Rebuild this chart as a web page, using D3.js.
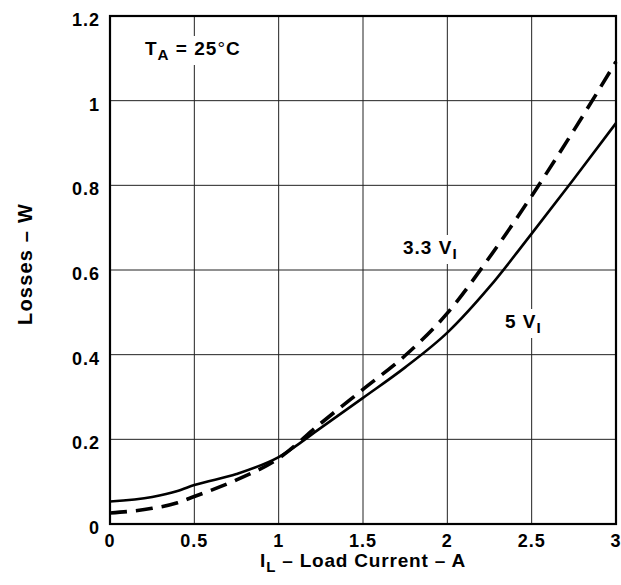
<!DOCTYPE html>
<html>
<head>
<meta charset="utf-8">
<script src="https://cdn.jsdelivr.net/npm/d3@7"></script>
<style>
  body { margin: 0; background: #fff; }
  text { font-family: "Liberation Sans", Arial, sans-serif; font-weight: bold; fill: #000; }
</style>
</head>
<body>
<div id="chart"></div>
<script>
// load current (A) and losses (W)
var currentA  = [0, 0.25, 0.4, 0.5, 0.75, 1.0, 1.25, 1.5, 1.75, 2.0, 2.25, 2.5, 2.75, 3.0];
var losses5V  = [0.053, 0.064, 0.078, 0.092, 0.118, 0.158, 0.227, 0.298, 0.37, 0.452, 0.56, 0.686, 0.815, 0.947];
var losses33V = [0.026, 0.037, 0.050, 0.065, 0.104, 0.155, 0.238, 0.318, 0.398, 0.498, 0.63, 0.775, 0.93, 1.092];

var xTicks = [0, 0.5, 1, 1.5, 2, 2.5, 3];
var yTicks = [0, 0.2, 0.4, 0.6, 0.8, 1, 1.2];

var svg = d3.select("#chart").append("svg").attr("width", 621).attr("height", 585),
    pLeft = 110, pRight = 616, pTop = 16, pBottom = 524;

var x = d3.scaleLinear().domain([0, 3]).range([pLeft, pRight]);
var y = d3.scaleLinear().domain([0, 1.2]).range([pBottom, pTop]);

// grid
svg.append("g")
   .selectAll("line")
   .data(xTicks)
   .enter().append("line")
   .attr("x1", function(d) { return x(d); })
   .attr("x2", function(d) { return x(d); })
   .attr("y1", pTop).attr("y2", pBottom)
   .attr("stroke", "#222").attr("stroke-width", 1);

svg.append("g")
   .selectAll("line")
   .data(yTicks)
   .enter().append("line")
   .attr("y1", function(d) { return y(d); })
   .attr("y2", function(d) { return y(d); })
   .attr("x1", pLeft).attr("x2", pRight)
   .attr("stroke", "#222").attr("stroke-width", 1);

// tick labels
svg.append("g")
   .selectAll("text")
   .data(xTicks)
   .enter().append("text")
   .attr("x", function(d) { return x(d); })
   .attr("y", 547)
   .attr("text-anchor", "middle")
   .attr("font-size", "18px")
   .attr("letter-spacing", "1px")
   .text(function(d) { return d; });

svg.append("g")
   .selectAll("text")
   .data(yTicks)
   .enter().append("text")
   .attr("x", 100)
   .attr("y", function(d) { return y(d) + 10; })
   .attr("text-anchor", "end")
   .attr("font-size", "18px")
   .attr("letter-spacing", "1px")
   .text(function(d) { return d; });

// labels with white background (they cut the grid)
function label(px, py, main, sub, rest, size) {
  var g = svg.append("g");
  var bg = g.append("rect").attr("fill", "#fff");
  var t = g.append("text").attr("x", px).attr("y", py)
     .attr("font-size", size + "px").attr("letter-spacing", "1px");
  t.append("tspan").text(main);
  t.append("tspan").attr("dy", 5).attr("font-size", (size * 0.8) + "px").text(sub);
  if (rest) {
    t.append("tspan").attr("dy", -5).text(" = 25");
    t.append("tspan").attr("font-weight", "normal").text("\u00b0");
    t.append("tspan").text("C");
  }
  var b = t.node().getBBox();
  bg.attr("x", b.x - 3).attr("y", b.y - 2).attr("width", b.width + 6).attr("height", b.height + 4);
}

// frame
svg.append("rect")
   .attr("x", pLeft).attr("y", pTop)
   .attr("width", pRight - pLeft).attr("height", pBottom - pTop)
   .attr("fill", "none").attr("stroke", "#000").attr("stroke-width", 2.2);

var lossLine = d3.line()
   .x(function(d, i) { return x(currentA[i]); })
   .y(function(d) { return y(d); })
   .curve(d3.curveMonotoneX);

svg.append("path")
   .attr("d", lossLine(losses5V))
   .attr("fill", "none").attr("stroke", "#000").attr("stroke-width", 2.6);

svg.append("path")
   .attr("d", lossLine(losses33V))
   .attr("fill", "none").attr("stroke", "#000").attr("stroke-width", 3.6)
   .attr("stroke-dasharray", "17,9");

label(145, 55, "T", "A", true, 19);
label(403, 254, "3.3 V", "I", false, 19);
label(505, 328, "5 V", "I", false, 19);

// axis titles
var xt = svg.append("text")
   .attr("x", (pLeft + pRight) / 2)
   .attr("y", 567)
   .attr("text-anchor", "middle")
   .attr("font-size", "19px")
   .attr("letter-spacing", "0.8px");
xt.append("tspan").text("I");
xt.append("tspan").attr("dy", 5).attr("font-size", "15px").text("L");
xt.append("tspan").attr("dy", -5).text(" \u2013 Load Current \u2013 A");

svg.append("text")
   .attr("transform", "translate(32,264) rotate(-90)")
   .attr("text-anchor", "middle")
   .attr("font-size", "20px")
   .attr("letter-spacing", "1.2px")
   .text("Losses \u2013 W");
</script>
</body>
</html>
